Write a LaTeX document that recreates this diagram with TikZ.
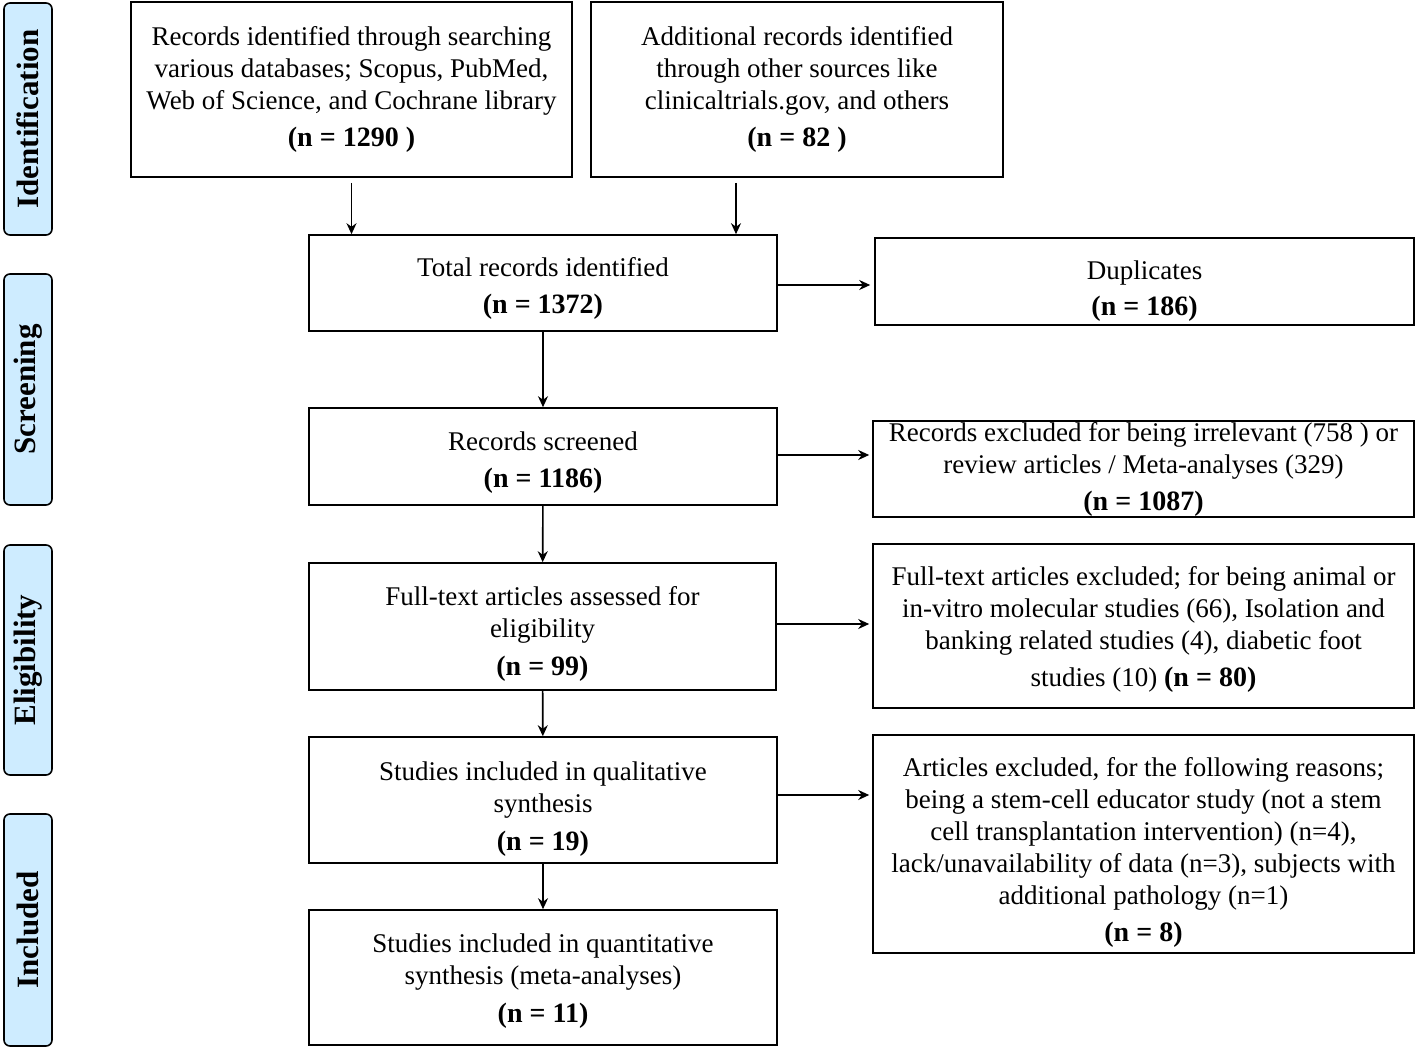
\documentclass[tikz,border=0pt]{standalone}
\usepackage{fontspec}
\setmainfont{Liberation Serif}
\usetikzlibrary{arrows.meta}
\definecolor{phasefill}{RGB}{206,236,255}
\newcommand{\nval}[1]{{\fontsize{14}{16}\selectfont\bfseries #1}}
\newcommand{\txtdown}[1]{\rule{0pt}{\dimexpr0.7em+#1*2\relax}}
\begin{document}
\begin{tikzpicture}[x=0.5pt,y=-0.5pt,
    box/.style={draw,line width=0.8pt,align=center,inner sep=0pt,
      font=\fontsize{13.5}{16}\selectfont},
    phase/.style={draw,line width=0.8pt,fill=phasefill,rounded corners=3pt,
      rotate=90,minimum height=24pt,inner sep=0pt,
      font=\fontsize{15.5}{18}\selectfont\bfseries},
    flow/.style={line width=0.8pt,-{Stealth[length=5.5pt,width=5pt]}}]
  \useasboundingbox (0,0) rectangle (1418,1049);
  % phase labels
  \node[phase,minimum width=116pt] (lblIdent) at (28,119) {Identification};
  \node[phase,minimum width=115.5pt] (lblScreen) at (28,389.5) {Screening};
  \node[phase,minimum width=115pt] (lblElig) at (28,660) {Eligibility};
  \node[phase,minimum width=116pt] (lblIncl) at (28,930) {Included};
  % main column
  \node[box,minimum width=220.5pt,minimum height=87.5pt] (ident) at (351.5,89.5)
    {Records identified through searching\\various databases; Scopus, PubMed,\\Web of Science, and Cochrane library\\[2.5pt]\nval{(n = 1290 )}};
  \node[box,minimum width=206pt,minimum height=87.5pt] (addit) at (797,89.5)
    {Additional records identified\\through other sources like\\clinicaltrials.gov, and others\\[2.5pt]\nval{(n = 82 )}};
  \node[box,minimum width=234pt,minimum height=48pt] (total) at (543,283)
    {\txtdown{3pt}Total records identified\\[2.5pt]\nval{(n = 1372)}};
  \node[box,minimum width=234pt,minimum height=48.5pt] (screened) at (543,456.5)
    {\txtdown{3pt}Records screened\\[2.5pt]\nval{(n = 1186)}};
  \node[box,minimum width=233.5pt,minimum height=63.5pt] (fulltext) at (542.5,626.5)
    {\txtdown{4pt}Full-text articles assessed for\\eligibility\\[3pt]\nval{(n = 99)}};
  \node[box,minimum width=234pt,minimum height=63pt] (qualit) at (543,800)
    {\txtdown{4.5pt}Studies included in qualitative\\synthesis\\[3pt]\nval{(n = 19)}};
  \node[box,minimum width=234pt,minimum height=67.5pt] (quantit) at (543,977.5)
    {\txtdown{2pt}Studies included in quantitative\\synthesis (meta-analyses)\\[3pt]\nval{(n = 11)}};
  % exclusions
  \node[box,minimum width=269.5pt,minimum height=43.5pt] (dupl) at (1144.5,281.5)
    {\txtdown{5pt}Duplicates\\[2pt]\nval{(n = 186)}};
  \node[box,minimum width=270.5pt,minimum height=48pt] (excl1) at (1143.5,469)
    {Records excluded for being irrelevant (758 ) or\\review articles / Meta-analyses (329)\\[2.5pt]\nval{(n = 1087)}};
  \node[box,minimum width=270.5pt,minimum height=82pt] (excl2) at (1143.5,626)
    {\txtdown{2pt}Full-text articles excluded; for being animal or\\in-vitro molecular studies (66), Isolation and\\banking related studies (4), diabetic foot\\[2.5pt]studies (10) \nval{(n = 80)}};
  \node[box,minimum width=270.5pt,minimum height=109pt] (excl3) at (1143.5,844)
    {\txtdown{4.5pt}Articles excluded, for the following reasons;\\being a stem-cell educator study (not a stem\\cell transplantation intervention) (n=4),\\lack/unavailability of data (n=3), subjects with\\additional pathology (n=1)\\[2.5pt]\nval{(n = 8)}};
  % arrows
  \draw[flow] ([yshift=-2.5pt]ident.south) -- (ident.south |- total.north);
  \draw[flow] ([xshift=-30.5pt,yshift=-2.5pt]addit.south) -- ([xshift=-30.5pt]addit.south |- total.north);
  \draw[flow] (total) -- (screened);
  \draw[flow] (screened) -- (fulltext);
  \draw[flow] (fulltext) -- (qualit);
  \draw[flow] (qualit) -- (quantit);
  \draw[flow,shorten >=2pt] ([yshift=-1pt]total.east) -- ([yshift=-1pt]dupl.west |- total.east);
  \draw[flow,shorten >=1.5pt] ([yshift=0.75pt]screened.east) -- ([yshift=0.75pt]excl1.west |- screened.east);
  \draw[flow,shorten >=1.5pt] ([yshift=1.25pt]fulltext.east) -- ([yshift=1.25pt]excl2.west |- fulltext.east);
  \draw[flow,shorten >=1.5pt] ([yshift=2.5pt]qualit.east) -- ([yshift=2.5pt]excl3.west |- qualit.east);
\end{tikzpicture}
\end{document}
